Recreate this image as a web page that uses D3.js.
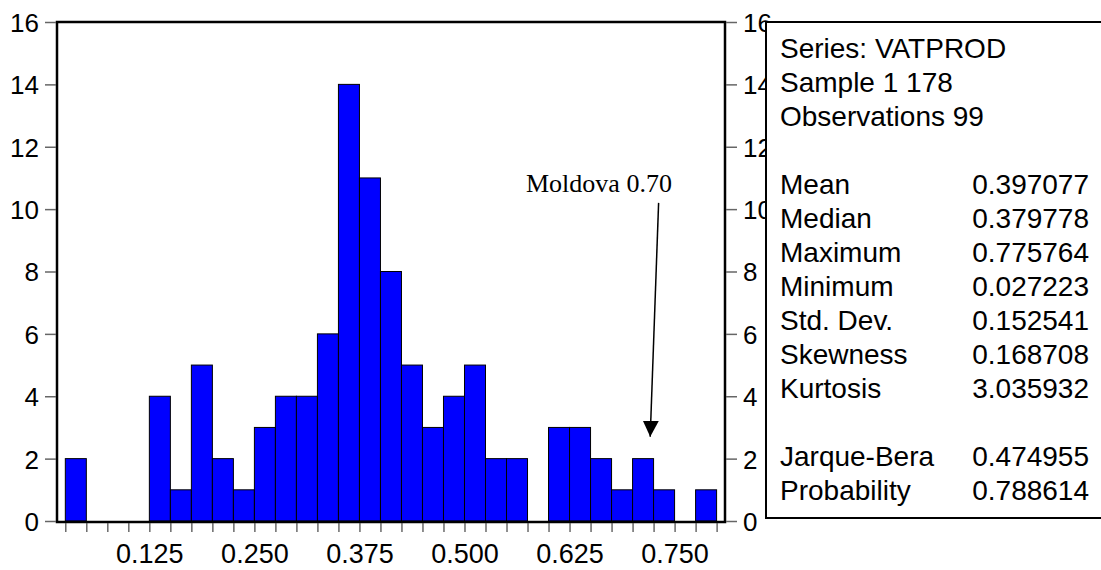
<!DOCTYPE html>
<html>
<head>
<meta charset="utf-8">
<script src="https://cdn.jsdelivr.net/npm/d3@7"></script>
<style>
  html, body { margin: 0; padding: 0; background: #fff; }
  svg { display: block; }
</style>
</head>
<body>
<svg id="chart" width="1101" height="570"></svg>
<script>
// histogram bins (lower edge, width 0.025) and counts
const binLow = [0.025, 0.05, 0.075, 0.1, 0.125, 0.15, 0.175, 0.2, 0.225, 0.25,
                0.275, 0.3, 0.325, 0.35, 0.375, 0.4, 0.425, 0.45, 0.475, 0.5,
                0.525, 0.55, 0.575, 0.6, 0.625, 0.65, 0.675, 0.7, 0.725, 0.75, 0.775];
const counts = [2, 0, 0, 0, 4, 1, 5, 2, 1, 3,
                4, 4, 6, 14, 11, 8, 5, 3, 4, 5,
                2, 2, 0, 3, 3, 2, 1, 2, 1, 0, 1];
const binWidth = 0.025;

const xTickLabels = [0.125, 0.25, 0.375, 0.5, 0.625, 0.75];
const yTicks = [0, 2, 4, 6, 8, 10, 12, 14, 16];

const statsHeader = ["Series: VATPROD", "Sample 1 178", "Observations 99"];
const statNames = ["Mean", "Median", "Maximum", "Minimum", "Std. Dev.", "Skewness", "Kurtosis"];
const statValues = ["0.397077", "0.379778", "0.775764", "0.027223", "0.152541", "0.168708", "3.035932"];
const testNames = ["Jarque-Bera", "Probability"];
const testValues = ["0.474955", "0.788614"];

const note = { label: "Moldova 0.70", textX: 0.66, textY: 10.55, fromX: 0.731, fromY: 10.2, toX: 0.721, toY: 2.7 };

const SANS = '"Liberation Sans", Arial, sans-serif';
const SERIF = '"Liberation Serif", "Times New Roman", serif';

const svg = d3.select('#chart');
const plotL = 57, plotR = 725, plotT = 22, plotB = 521;

const x = d3.scaleLinear().domain([0.0151, 0.81]).range([plotL, plotR]);
const y = d3.scaleLinear().domain([0, 16]).range([plotB, plotT]);

// bars
svg.append('g').selectAll('rect')
    .data(binLow.map((b, i) => ({ b: b, c: counts[i] })).filter(d => d.c > 0))
    .enter().append('rect')
    .attr('x', d => x(d.b))
    .attr('y', d => y(d.c))
    .attr('width', d => x(d.b + binWidth) - x(d.b))
    .attr('height', d => y(0) - y(d.c))
    .attr('fill', '#0000ff')
    .attr('stroke', '#000')
    .attr('stroke-width', 1);

// frame
svg.append('rect')
    .attr('x', plotL).attr('y', plotT)
    .attr('width', plotR - plotL).attr('height', plotB + 1 - plotT)
    .attr('fill', 'none').attr('stroke', '#000').attr('stroke-width', 2.5);

function styleAxis(g, size) {
    g.select('.domain').remove();
    g.attr('font-family', null).attr('font-size', null);
    g.selectAll('text')
        .style('font-family', SANS)
        .style('font-size', size + 'px')
        .attr('fill', '#000');
}

// left axis
const yl = svg.append('g').attr('transform', `translate(${plotL - 1},0)`)
    .call(d3.axisLeft(y).tickValues(yTicks).tickSize(11).tickPadding(6).tickFormat(d3.format('d')));
styleAxis(yl, 26);
yl.selectAll('line').attr('stroke', '#666').attr('stroke-width', 1.5);
yl.selectAll('text').attr('dy', '0.36em');

// right axis
const yr = svg.append('g').attr('transform', `translate(${plotR + 1},0)`)
    .call(d3.axisRight(y).tickValues(yTicks).tickSize(11).tickPadding(6).tickFormat(d3.format('d')));
styleAxis(yr, 26);
yr.selectAll('line').attr('stroke', '#666').attr('stroke-width', 1.5);
yr.selectAll('text').attr('dy', '0.36em');

// bottom axis: tick at every bin edge, labels on multiples of 0.125
const edges = binLow.concat([binLow[binLow.length - 1] + binWidth]);
const xb = svg.append('g').attr('transform', `translate(0,${plotB + 2})`)
    .call(d3.axisBottom(x).tickValues(edges).tickSize(9).tickPadding(12)
        .tickFormat(d => xTickLabels.some(t => Math.abs(t - d) < 1e-9) ? d3.format('.3f')(d) : ''));
styleAxis(xb, 27);
xb.selectAll('line').attr('stroke', '#444').attr('stroke-width', 1.2);

// annotation
svg.append('defs').append('marker')
    .attr('id', 'head').attr('viewBox', '0 0 10 10')
    .attr('refX', 10).attr('refY', 5)
    .attr('markerWidth', 16).attr('markerHeight', 16)
    .attr('markerUnits', 'userSpaceOnUse')
    .attr('orient', 'auto')
    .append('path').attr('d', 'M0,0 L10,5 L0,10 Z').attr('fill', '#000');

svg.append('line')
    .attr('x1', x(note.fromX)).attr('y1', y(note.fromY))
    .attr('x2', x(note.toX)).attr('y2', y(note.toY))
    .attr('stroke', '#000').attr('stroke-width', 1.5)
    .attr('marker-end', 'url(#head)');

svg.append('text')
    .attr('x', x(note.textX)).attr('y', y(note.textY))
    .attr('text-anchor', 'middle')
    .style('font-family', SERIF)
    .style('font-size', '26px')
    .text(note.label);

// statistics box
const box = svg.append('g');
box.append('rect')
    .attr('x', 766).attr('y', 22).attr('width', 340).attr('height', 496)
    .attr('fill', '#fff').attr('stroke', '#000').attr('stroke-width', 2);

const lineY = i => 58 + 34 * i;
const rows = [];
statsHeader.forEach((t, i) => rows.push({ name: t, value: '', i: i }));
statNames.forEach((t, i) => rows.push({ name: t, value: statValues[i], i: 4 + i }));
testNames.forEach((t, i) => rows.push({ name: t, value: testValues[i], i: 12 + i }));

box.selectAll('text.name').data(rows).enter().append('text')
    .attr('class', 'name')
    .attr('x', 780).attr('y', d => lineY(d.i))
    .style('font-family', SANS)
    .style('font-size', '28px')
    .text(d => d.name);

box.selectAll('text.val').data(rows.filter(d => d.value)).enter().append('text')
    .attr('class', 'val')
    .attr('x', 1089).attr('y', d => lineY(d.i))
    .attr('text-anchor', 'end')
    .style('font-family', SANS)
    .style('font-size', '28px')
    .text(d => d.value);
</script>
</body>
</html>
